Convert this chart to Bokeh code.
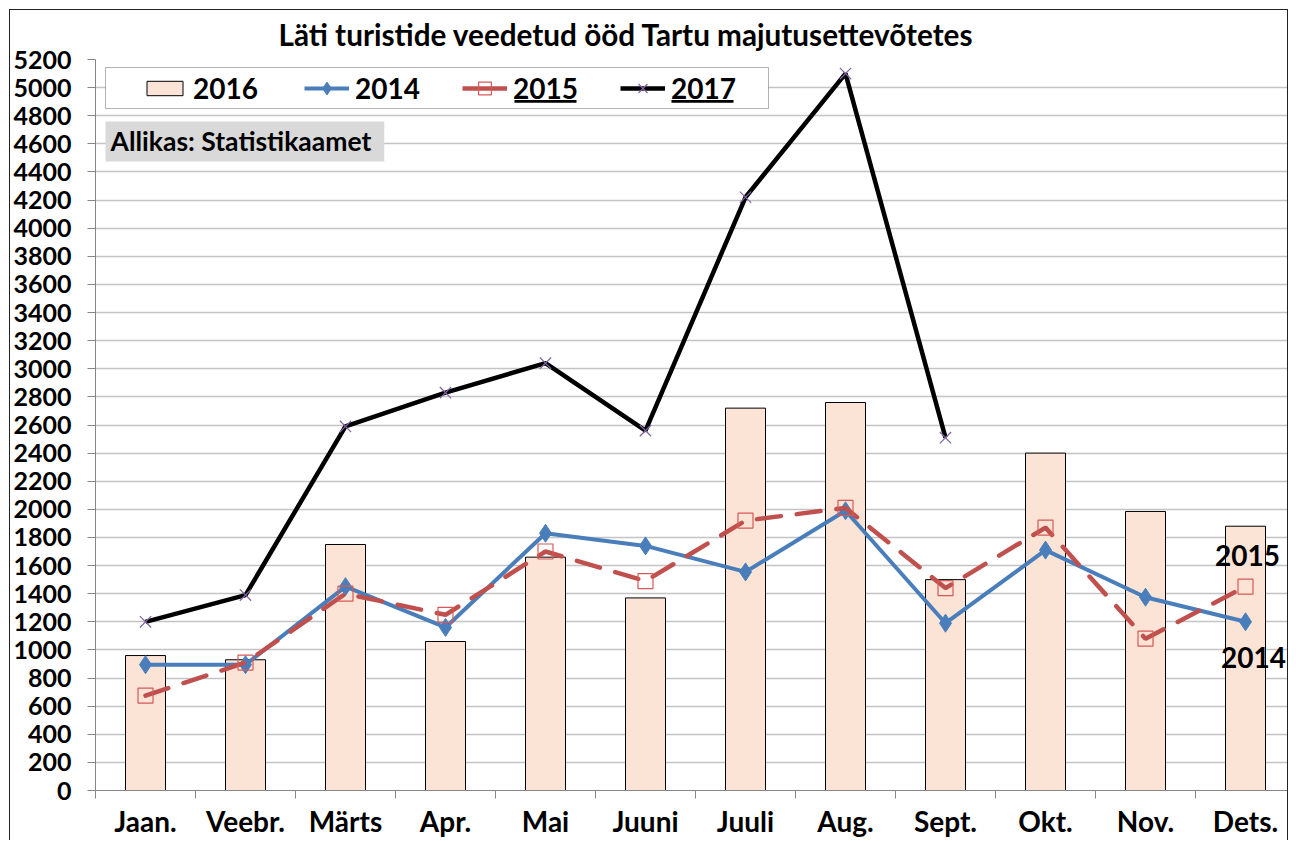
from bokeh.plotting import figure
from bokeh.models import FixedTicker, Legend, LegendItem, BoxAnnotation, Label
from bokeh.core.properties import value
from bokeh.embed import file_html
from bokeh.resources import INLINE

months = ["Jaan.", "Veebr.", "Märts", "Apr.", "Mai", "Juuni", "Juuli", "Aug.", "Sept.", "Okt.", "Nov.", "Dets."]
v2016 = [960, 930, 1750, 1060, 1660, 1370, 2720, 2760, 1500, 2400, 1985, 1880]
v2014 = [895, 895, 1450, 1160, 1830, 1740, 1555, 1990, 1190, 1710, 1375, 1200]
v2015 = [675, 910, 1400, 1250, 1700, 1490, 1920, 2010, 1440, 1870, 1080, 1450]
v2017 = [1200, 1390, 2590, 2830, 3040, 2560, 4220, 5100, 2510]
y_ticks = list(range(0, 5201, 200))
title_text = "Läti turistide veedetud ööd Tartu majutusettevõtetes"
source_text = "Allikas: Statistikaamet"
end_labels = ["2015", "2014"]

FONT = "Lato"
x = list(range(1, len(months) + 1))

p = figure(width=1279, height=831, output_backend="svg", toolbar_location=None,
           x_range=(0.5, 12.44), y_range=(0, 5200),
           min_border_left=85, min_border_top=49, min_border_bottom=51, min_border_right=0)
p.styles = {"margin-left": "9px", "margin-top": "9px",
            "border-top": "1px solid #222", "border-left": "1px solid #222",
            "border-right": "1px solid #222"}
p.outline_line_color = None

p.title.text = title_text
p.title.text_font = FONT
p.title.text_font_size = "29.7px"
p.title.text_font_style = "bold"
p.title.text_color = "black"
p.title.align = "left"
p.title.offset = 183
p.title.vertical_align = "top"
p.title.standoff = 11

p.xgrid.grid_line_color = None
p.ygrid.grid_line_color = "#c4c4c4"
p.ygrid.grid_line_width = 1.5
p.ygrid.ticker = FixedTicker(ticks=y_ticks)

p.yaxis.ticker = FixedTicker(ticks=y_ticks)
p.yaxis.major_tick_out = 8
p.yaxis.major_tick_in = 0
p.yaxis.minor_tick_out = 0
p.yaxis.axis_line_color = "#868686"
p.yaxis.major_tick_line_color = "#868686"
p.yaxis.major_label_text_font = FONT
p.yaxis.major_label_text_font_size = "25px"
p.yaxis.major_label_text_font_style = "bold"
p.yaxis.major_label_text_color = "black"
p.yaxis.major_label_standoff = 16

p.xaxis.ticker = FixedTicker(ticks=x, minor_ticks=[i + 0.5 for i in range(0, len(months) + 1)])
p.xaxis.major_label_overrides = {i: m for i, m in zip(x, months)}
p.xaxis.major_tick_out = 0
p.xaxis.major_tick_in = 0
p.xaxis.minor_tick_out = 8
p.xaxis.minor_tick_in = 0
p.xaxis.minor_tick_line_color = "#868686"
p.xaxis.axis_line_color = "#868686"
p.xaxis.major_label_text_font = FONT
p.xaxis.major_label_text_font_size = "28px"
p.xaxis.major_label_text_font_style = "bold"
p.xaxis.major_label_text_color = "black"
p.xaxis.major_label_standoff = 5

r_bar = p.vbar(x=x, top=v2016, width=0.4, fill_color="#fbe3d6", line_color="black", line_width=1)
r14l = p.line(x, v2014, line_color="#4a7ebb", line_width=4)
r14m = p.scatter(x, v2014, marker="diamond", size=18, color="#4a7ebb")
r15l = p.line(x, v2015, line_color="#c0504d", line_width=4.5, line_dash="24 16", line_cap="round")
r15m = p.scatter(x, v2015, marker="square", size=15, fill_color=None, line_color="#d55a57", line_width=1.2)
x17 = x[:len(v2017)]
r17l = p.line(x17, v2017, line_color="black", line_width=4.5)
r17m = p.scatter(x17, v2017, marker="x", size=16, line_color="#8064a2", line_width=1.2)
# zero-length strokes at the 2015 points: invisible on the chart, give a solid legend swatch
r15leg = p.segment(x0=x, y0=v2015, x1=x, y1=v2015, line_color="#c0504d", line_width=4.5, line_cap="butt")

p.text(x=[x[-1], x[-1]], y=[v2015[-1], v2014[-1]], text=end_labels,
       x_offset=[2, 8], y_offset=[-31, 36], text_align="center", text_baseline="middle",
       text_font=value(FONT), text_font_size="28px", text_font_style="bold", text_color="black")

box = BoxAnnotation(left=0.6, right=7.23, top=5143, bottom=4851, fill_color="white", fill_alpha=1,
                    line_color="black", line_width=1)
p.add_layout(box)

# underlines under the 2015 and 2017 legend labels
for l, r in [(4.69, 5.31), (6.26, 6.88)]:
    p.add_layout(BoxAnnotation(left=l, right=r, top=4912, bottom=4893, fill_color="black",
                               fill_alpha=1, line_color=None))

src = Label(x=0.6, y=4617, text=source_text, text_baseline="middle", text_font=FONT,
            text_font_size="26.5px", text_font_style="bold", text_color="black",
            background_fill_color="#d9d9d9",
            padding=dict(left=5, right=13, top=4, bottom=4))
p.add_layout(src)

common = dict(orientation="horizontal", label_text_font=FONT, label_text_font_size="28px",
              label_text_font_style="bold", label_text_color="black", glyph_width=45,
              label_standoff=6, padding=0, margin=0, border_line_color=None,
              background_fill_alpha=0)
legend_a = Legend(items=[LegendItem(label="2016", renderers=[r_bar])],
                  location=(47, 685), glyph_height=18, **common)
legend_b = Legend(items=[LegendItem(label="2014", renderers=[r14l, r14m]),
                         LegendItem(label="2015", renderers=[r15leg, r15m]),
                         LegendItem(label="2017", renderers=[r17l, r17m])],
                  location=(209, 685), glyph_height=32, spacing=42, **common)
p.add_layout(legend_a)
p.add_layout(legend_b)

open("out.html", "w").write(file_html(p, INLINE))
